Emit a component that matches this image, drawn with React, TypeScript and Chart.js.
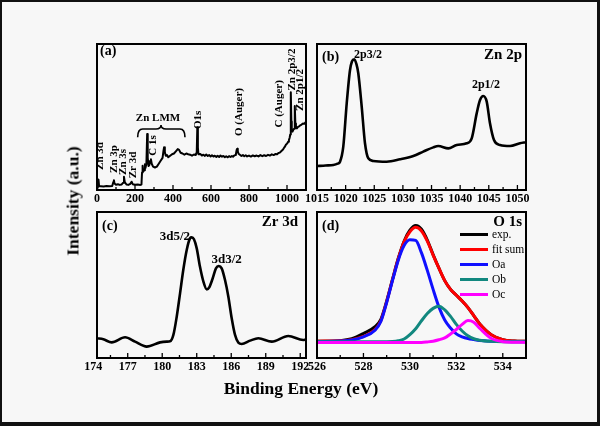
import React, { useEffect, useRef } from "react";
import { Chart, registerables } from "chart.js";

Chart.register(...registerables);

const SERIF = '"Liberation Serif", "Times New Roman", Times, serif';
const W = 600;
const H = 426;
const AXIS_H = 20;

// ---------- (a) survey spectrum ----------
const surveyEnergy = [
  0, 4, 8, 11, 20, 35, 50, 65, 80, 86,
  89, 92, 100, 110, 120, 130, 138, 142, 146, 155,
  165, 175, 182, 188, 200, 215, 228, 234, 237, 240,
  243, 248, 252, 255, 260, 264, 267, 271, 275, 280,
  284, 288, 295, 305, 315, 325, 335, 345, 350, 353,
  357, 362, 368, 375, 385, 395, 405, 415, 425, 432,
  440, 450, 460, 470, 480, 490, 500, 510, 520, 525,
  528, 531, 534, 545, 552, 560, 568, 575, 583, 590,
  598, 605, 613, 620, 628, 635, 643, 650, 658, 665,
  673, 680, 688, 695, 703, 710, 716, 722, 727, 731,
  735, 738, 741, 745, 752, 760, 768, 775, 783, 790,
  800, 810, 820, 830, 840, 850, 860, 870, 880, 890,
  900, 910, 920, 930, 940, 948, 955, 962, 968, 975,
  982, 988, 995, 1001, 1006, 1010, 1014, 1017, 1019, 1021,
  1023, 1025, 1029, 1033, 1037, 1040, 1042, 1044, 1047, 1052,
  1058, 1064, 1070, 1077, 1084, 1090, 1096, 1100,
];
const surveyIntensity = [
  1.5, 7.4, 7.0, 2.5, 2.6, 2.4, 2.7, 2.5, 2.8, 5.5,
  6.7, 4.5, 3.6, 3.9, 3.5, 3.8, 5.0, 9.0, 5.5, 3.8,
  3.5, 4.2, 5.7, 4.0, 3.6, 3.7, 3.5, 3.8, 12, 16.6,
  12.5, 13.5, 17.7, 15, 18, 38.4, 22, 16.5, 17, 20,
  21, 18, 16, 15.4, 16, 18, 20, 22, 27, 29.2,
  26, 23.4, 24, 22.5, 23.5, 24.5, 25, 26.5, 28, 27.5,
  25.5, 25, 24.2, 25, 24.5, 24.2, 23.5, 24.3, 24, 26,
  43, 29, 24.5, 24.6, 23.6, 24.2, 23.4, 24.3, 23.3, 23.9,
  23.0, 23.8, 22.9, 23.5, 22.7, 23.4, 22.6, 23.6, 22.8, 23.3,
  22.5, 23.1, 22.4, 23.2, 22.6, 23.3, 22.8, 23.6, 23.9, 24.5,
  27.5, 28.3, 26.5, 24.8, 24.1, 23.3, 23.9, 23.1, 23.8, 23.0,
  23.6, 22.9, 23.7, 23.1, 23.6, 23.0, 23.9, 23.2, 23.8, 23.3,
  24.1, 23.6, 24.4, 23.9, 24.7, 24.5, 25.3, 25.6, 26.4, 27.2,
  28.4, 29.5, 31.2, 31.8, 33, 34.2, 35.8, 38, 50, 67,
  47, 40.5, 40, 41.2, 42, 44, 57.5, 45.5, 42.5, 42.2,
  43.2, 43.6, 44.3, 44.8, 45.6, 45.3, 46.2, 46.6,
];
const surveyTicks = [0, 200, 400, 600, 800, 1000];
const surveyMinor = [100, 300, 500, 700, 900, 1100];

// ---------- (b) Zn 2p ----------
const zn2pEnergy = [
  1015, 1016.5, 1017.85, 1018.6, 1019.02, 1019.59, 1020.19, 1020.76, 1021.1, 1021.51,
  1021.9, 1022.21, 1022.81, 1023.38, 1023.96, 1024.83, 1027.17, 1029.5, 1031.82, 1033.56,
  1035.31, 1036.18, 1037.93, 1039.4, 1041.14, 1042.02, 1042.89, 1043.47, 1044.04, 1044.64,
  1045.21, 1045.91, 1046.96, 1048.71, 1050.45, 1051.5,
];
const zn2pIntensity = [
  16.4, 16.8, 17.1, 18, 19.4, 29.7, 59.4, 82, 88, 89.5,
  86, 80, 57, 32, 21.7, 19.9, 19.4, 21, 23.3, 26.3,
  29.2, 30.1, 28.5, 30.8, 32, 35.4, 52.5, 61.6, 64.4, 60.5,
  45.7, 34.2, 30.8, 30.1, 32, 32.7,
];
const zn2pTicks = [1015, 1020, 1025, 1030, 1035, 1040, 1045, 1050];
const zn2pMinor = [1017.5, 1022.5, 1027.5, 1032.5, 1037.5, 1042.5, 1047.5];

// ---------- (c) Zr 3d ----------
const zr3dEnergy = [
  174.33, 174.88, 175.61, 176.77, 177.64, 178.65, 179.81, 180.39, 180.68, 180.97,
  181.26, 181.55, 181.83, 182.13, 182.42, 182.56, 182.76, 183.0, 183.28, 183.58,
  183.87, 184.09, 184.39, 184.67, 184.91, 185.17, 185.46, 185.75, 186.04, 186.33,
  186.62, 186.91, 187.64, 188.36, 189.52, 190.96, 192.26, 192.5,
];
const zr3dIntensity = [
  13.5, 12.8, 10.7, 14.2, 11.2, 7.8, 10.7, 11.2, 11.4, 15.8,
  28.3, 44.3, 60.3, 74, 82, 82.6, 81.3, 75.1, 62.6, 52.3,
  47, 48.4, 54.6, 61.4, 63, 61.4, 53.4, 42, 27.2, 15.8,
  10.5, 9.6, 11.9, 13.5, 11.2, 15.1, 12.3, 12.8,
];
const zr3dTicks = [174, 177, 180, 183, 186, 189, 192];
const zr3dMinor = [175.5, 178.5, 181.5, 184.5, 187.5, 190.5];

// ---------- (d) O 1s ----------
const o1sEnergy = [
  526, 527, 527.5, 528, 528.5, 528.75, 529, 529.25, 529.5, 529.75,
  530, 530.25, 530.5, 530.75, 531, 531.25, 531.5, 531.75, 532, 532.25,
  532.5, 532.75, 533, 533.5, 534, 534.5, 535,
];
const o1sExp = [
  11.5, 11.9, 13.2, 16.8, 21.5, 26.5, 39, 53.8, 68.3, 80,
  87.5, 90.8, 88.2, 80.8, 70.8, 61.5, 53, 47, 43, 39,
  34.5, 29, 23.5, 16, 12.5, 11.6, 11.4,
];
const o1sFitSum = [
  11.5, 11.8, 12.5, 14.8, 19.5, 25.5, 38.5, 53.5, 68, 79.5,
  86.5, 89.5, 87, 80, 70.5, 61.5, 53, 47, 43, 39,
  34.5, 29, 23.5, 16, 12.5, 11.6, 11.4,
];
const o1sOa = [
  11.3, 11.6, 12.3, 14.5, 19, 25, 38, 53, 67, 77,
  81, 80.5, 72, 60, 47, 35, 26, 20.5, 16.5, 14.5,
  13.3, 12.6, 12, 11.5, 11.3, 11.2, 11.2,
];
const o1sOb = [
  11.2, 11.2, 11.2, 11.2, 11.2, 11.2, 11.2, 11.3, 11.8, 13,
  16, 20, 25.5, 30.5, 34, 35.5, 33, 28.5, 23, 18.5,
  15.2, 13.2, 12.2, 11.4, 11.2, 11.2, 11.2,
];
const o1sOc = [
  10.7, 10.7, 10.7, 10.7, 10.7, 10.7, 10.7, 10.7, 10.7, 10.7,
  10.7, 10.7, 10.7, 11, 11.5, 12.5, 13.8, 16.5, 19.5, 23,
  25.6, 24.5, 20.5, 13.5, 11.2, 10.8, 10.7,
];
const o1sTicks = [526, 528, 530, 532, 534];
const o1sMinor = [527, 529, 531, 533, 535];
const o1sLabels = ["exp.", "fit sum", "Oa", "Ob", "Oc"];
const o1sColors = ["#000000", "#ff0000", "#1010ff", "#12887f", "#ff00ff"];

// ---------- helpers ----------
type TextAnn = {
  text: string;
  x: number;
  y: number;
  size: number;
  mode: "data" | "left" | "right";
  rotate?: boolean;
  align?: CanvasTextAlign;
  weight?: string;
};

type Panel = {
  box: { l: number; t: number; r: number; b: number };
  xMin: number;
  xMax: number;
  majors: number[];
  minors: number[];
  datasets: any[];
  texts: TextAnn[];
  brace?: { x1: number; x2: number; xc: number; yEnd: number; yBar: number; yTip: number };
  legend?: boolean;
};

const pts = (xs: number[], ys: number[]) => xs.map((x, i) => ({ x, y: ys[i] }));

function line(xs: number[], ys: number[], color: string, width: number, smooth: boolean, order = 0, label = "") {
  return {
    label,
    data: pts(xs, ys),
    borderColor: color,
    backgroundColor: color,
    borderWidth: width,
    pointRadius: 0,
    fill: false,
    tension: smooth ? 0.4 : 0,
    cubicInterpolationMode: smooth ? "monotone" : "default",
    borderJoinStyle: "round",
    borderCapStyle: "round",
    order,
  };
}

function buildChart(canvas: HTMLCanvasElement, p: Panel) {
  const deco = {
    id: "deco",
    afterDatasetsDraw(chart: any) {
      const { ctx, chartArea: a, scales } = chart;
      const xs = scales.x;
      const ys = scales.y;
      ctx.save();
      ctx.strokeStyle = "#000";
      ctx.fillStyle = "#000";
      // inward ticks
      ctx.lineWidth = 1.3;
      for (const v of p.minors) {
        if (v <= p.xMin || v >= p.xMax) continue;
        const px = xs.getPixelForValue(v);
        ctx.beginPath();
        ctx.moveTo(px, a.bottom);
        ctx.lineTo(px, a.bottom - 3);
        ctx.stroke();
      }
      for (const v of p.majors) {
        if (v < p.xMin || v > p.xMax) continue;
        const px = xs.getPixelForValue(v);
        ctx.beginPath();
        ctx.moveTo(px, a.bottom);
        ctx.lineTo(px, a.bottom - 5);
        ctx.stroke();
      }
      // frame
      ctx.lineWidth = 2;
      ctx.strokeRect(a.left, a.top, a.right - a.left, a.bottom - a.top);
      // texts
      for (const t of p.texts) {
        let px: number;
        let py: number;
        if (t.mode === "data") {
          px = xs.getPixelForValue(t.x);
          py = ys.getPixelForValue(t.y);
        } else if (t.mode === "left") {
          px = a.left + t.x;
          py = a.top + t.y;
        } else {
          px = a.right + t.x;
          py = a.top + t.y;
        }
        ctx.font = `${t.weight || "bold"} ${t.size}px ${SERIF}`;
        ctx.textAlign = t.align || "center";
        ctx.textBaseline = "middle";
        if (t.rotate) {
          ctx.save();
          ctx.translate(px, py);
          ctx.rotate(-Math.PI / 2);
          ctx.fillText(t.text, 0, 0);
          ctx.restore();
        } else {
          ctx.fillText(t.text, px, py);
        }
      }
      // brace
      if (p.brace) {
        const br = p.brace;
        const x1 = xs.getPixelForValue(br.x1);
        const x2 = xs.getPixelForValue(br.x2);
        const xc = xs.getPixelForValue(br.xc);
        const yE = ys.getPixelForValue(br.yEnd);
        const yB = ys.getPixelForValue(br.yBar);
        const yT = ys.getPixelForValue(br.yTip);
        const r = 5;
        ctx.lineWidth = 1.6;
        ctx.beginPath();
        ctx.moveTo(x1, yE);
        ctx.quadraticCurveTo(x1, yB, x1 + r, yB);
        ctx.lineTo(xc - r, yB);
        ctx.quadraticCurveTo(xc, yB, xc, yT);
        ctx.quadraticCurveTo(xc, yB, xc + r, yB);
        ctx.lineTo(x2 - r, yB);
        ctx.quadraticCurveTo(x2, yB, x2, yE);
        ctx.stroke();
      }
      // legend
      if (p.legend) {
        const ds = chart.data.datasets;
        ctx.font = `normal 11.5px ${SERIF}`;
        ctx.textAlign = "left";
        ctx.textBaseline = "middle";
        ds.forEach((d: any, i: number) => {
          const y = a.top + 22.5 + 15 * i;
          ctx.strokeStyle = d.borderColor;
          ctx.lineWidth = 3;
          ctx.beginPath();
          ctx.moveTo(a.left + 143, y);
          ctx.lineTo(a.left + 171, y);
          ctx.stroke();
          ctx.fillStyle = "#000";
          ctx.fillText(d.label, a.left + 175, y);
        });
      }
      ctx.restore();
    },
  };

  return new Chart(canvas, {
    type: "line",
    data: { datasets: p.datasets },
    options: {
      responsive: false,
      animation: false,
      events: [],
      layout: {
        padding: { left: p.box.l, top: p.box.t, right: W - p.box.r, bottom: H - p.box.b - AXIS_H },
      },
      plugins: { legend: { display: false }, tooltip: { enabled: false } },
      scales: {
        x: {
          type: "linear",
          min: p.xMin,
          max: p.xMax,
          afterBuildTicks: (s: any) => {
            s.ticks = p.majors.map((v) => ({ value: v }));
          },
          afterFit: (s: any) => {
            s.height = AXIS_H;
          },
          grid: { display: false, drawTicks: false },
          border: { display: false },
          ticks: {
            autoSkip: false,
            maxRotation: 0,
            minRotation: 0,
            padding: 2,
            color: "#000",
            font: { family: SERIF, size: 12, weight: "bold" },
            callback: (v: any) => String(v),
          },
        },
        y: { display: false, min: 0, max: 100 },
      },
    } as any,
    plugins: [deco as any],
  });
}

const LEFT = { l: 97, r: 306 };
const RIGHT = { l: 317, r: 526 };
const TOP = { t: 44, b: 190 };
const BOTTOM = { t: 212, b: 358 };

const panels: Panel[] = [
  {
    box: { ...LEFT, ...TOP },
    xMin: 0,
    xMax: 1100,
    majors: surveyTicks,
    minors: surveyMinor,
    datasets: [line(surveyEnergy, surveyIntensity, "#000", 2, false)],
    texts: [
      { text: "(a)", x: 3, y: 7, size: 14, mode: "left", align: "left" },
      { text: "Zn 3d", x: 16, y: 23.3, size: 11, mode: "data", rotate: true },
      { text: "Zn 3p", x: 89, y: 21.2, size: 11, mode: "data", rotate: true },
      { text: "Zn 3s", x: 138, y: 19.2, size: 11, mode: "data", rotate: true },
      { text: "Zr 3d", x: 188, y: 17.1, size: 11, mode: "data", rotate: true },
      { text: "C 1s", x: 296, y: 30.5, size: 11, mode: "data", rotate: true },
      { text: "Zn LMM", x: 321, y: 49.5, size: 11, mode: "data" },
      { text: "O1s", x: 533, y: 48, size: 11, mode: "data", rotate: true },
      { text: "O (Auger)", x: 747, y: 53.4, size: 11, mode: "data", rotate: true },
      { text: "C (Auger)", x: 958, y: 59, size: 11, mode: "data", rotate: true },
      { text: "Zn 2p3/2", x: 1025, y: 82.5, size: 11, mode: "data", rotate: true },
      { text: "Zn 2p1/2", x: 1068, y: 68.5, size: 11, mode: "data", rotate: true },
    ],
    brace: { x1: 214, x2: 463, xc: 337, yEnd: 36.1, yBar: 41.8, yTip: 44.5 },
  },
  {
    box: { ...RIGHT, ...TOP },
    xMin: 1015,
    xMax: 1051.5,
    majors: zn2pTicks,
    minors: zn2pMinor,
    datasets: [line(zn2pEnergy, zn2pIntensity, "#000", 2.6, true)],
    texts: [
      { text: "(b)", x: 5, y: 13.5, size: 14, mode: "left", align: "left" },
      { text: "Zn 2p", x: -4, y: 11, size: 15, mode: "right", align: "right" },
      { text: "2p3/2", x: 1023.9, y: 92.5, size: 12, mode: "data" },
      { text: "2p1/2", x: 1044.5, y: 71.9, size: 12, mode: "data" },
    ],
  },
  {
    box: { ...LEFT, ...BOTTOM },
    xMin: 174.33,
    xMax: 192.5,
    majors: zr3dTicks,
    minors: zr3dMinor,
    datasets: [line(zr3dEnergy, zr3dIntensity, "#000", 2.6, true)],
    texts: [
      { text: "(c)", x: 5, y: 14, size: 14, mode: "left", align: "left" },
      { text: "Zr 3d", x: -8, y: 9.7, size: 15, mode: "right", align: "right" },
      { text: "3d5/2", x: 181.1, y: 83.1, size: 13, mode: "data" },
      { text: "3d3/2", x: 185.6, y: 67.1, size: 13, mode: "data" },
    ],
  },
  {
    box: { ...RIGHT, ...BOTTOM },
    xMin: 526,
    xMax: 535,
    majors: o1sTicks,
    minors: o1sMinor,
    datasets: [
      line(o1sEnergy, o1sExp, o1sColors[0], 3, true, 5, o1sLabels[0]),
      line(o1sEnergy, o1sFitSum, o1sColors[1], 3, true, 4, o1sLabels[1]),
      line(o1sEnergy, o1sOa, o1sColors[2], 3, true, 3, o1sLabels[2]),
      line(o1sEnergy, o1sOb, o1sColors[3], 3, true, 2, o1sLabels[3]),
      line(o1sEnergy, o1sOc, o1sColors[4], 3, true, 1, o1sLabels[4]),
    ],
    texts: [
      { text: "(d)", x: 5, y: 14, size: 14, mode: "left", align: "left" },
      { text: "O 1s", x: -4, y: 9.7, size: 15, mode: "right", align: "right" },
    ],
    legend: true,
  },
];

export default function App() {
  const r0 = useRef<HTMLCanvasElement>(null);
  const r1 = useRef<HTMLCanvasElement>(null);
  const r2 = useRef<HTMLCanvasElement>(null);
  const r3 = useRef<HTMLCanvasElement>(null);
  const refs = [r0, r1, r2, r3];

  useEffect(() => {
    const charts = panels.map((p, i) => buildChart(refs[i].current as HTMLCanvasElement, p));
    return () => charts.forEach((c) => c.destroy());
  }, []);

  const canvasStyle: React.CSSProperties = { position: "absolute", left: 0, top: 0, width: W, height: H };

  return (
    <div
      style={{
        position: "fixed",
        left: 0,
        top: 0,
        width: W,
        height: H,
        background: "#f7f7f7",
        overflow: "hidden",
        fontFamily: SERIF,
      }}
    >
      {refs.map((r, i) => (
        <canvas key={i} ref={r} width={W} height={H} style={canvasStyle} />
      ))}
      <div
        style={{
          position: "absolute",
          left: 73,
          top: 201,
          transform: "translate(-50%, -50%) rotate(-90deg)",
          fontWeight: "bold",
          fontSize: 17.5,
          whiteSpace: "nowrap",
          color: "#000",
        }}
      >
        Intensity (a.u.)
      </div>
      <div
        style={{
          position: "absolute",
          left: 301,
          top: 388,
          transform: "translate(-50%, -50%)",
          fontWeight: "bold",
          fontSize: 17.5,
          whiteSpace: "nowrap",
          color: "#000",
        }}
      >
        Binding Energy (eV)
      </div>
      <div
        style={{
          position: "absolute",
          left: 0,
          top: 0,
          width: W,
          height: H,
          boxSizing: "border-box",
          borderStyle: "solid",
          borderColor: "#111",
          borderWidth: "2px 3px 4px 2px",
          pointerEvents: "none",
        }}
      />
    </div>
  );
}
